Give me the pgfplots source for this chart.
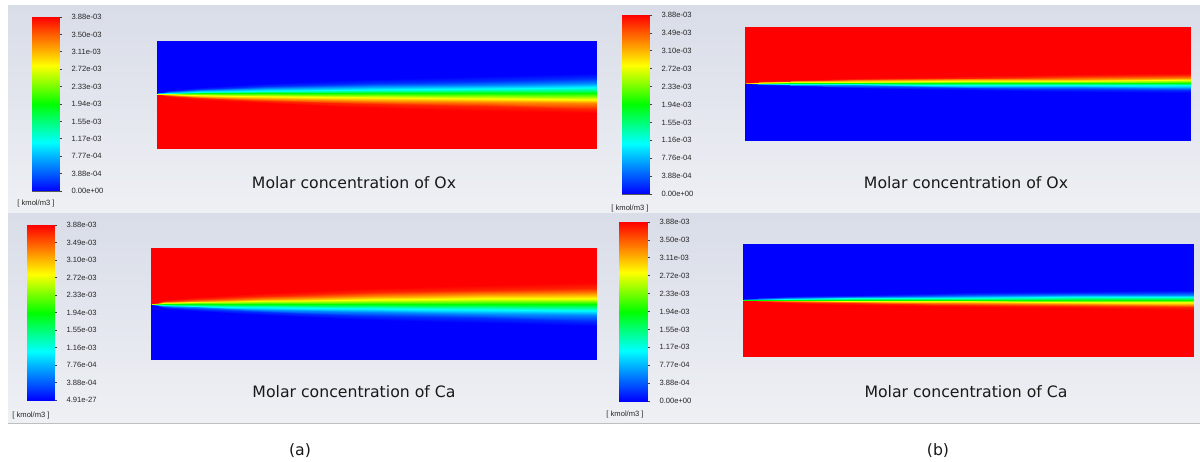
\documentclass[border=0pt]{standalone}
\usepackage{pgfplots}
\pgfplotsset{compat=1.18}
\usepackage{pgfplotstable}
\usepackage{fontspec}
\setmainfont{DejaVu Sans}
\newfontfamily\lib{Liberation Sans}

\definecolor{bgtop}{RGB}{217,221,232}
\definecolor{bgbot}{RGB}{238,240,244}

\pgfplotsset{
 colormap={fluent}{rgb255(0cm)=(0,0,255); rgb255(2.8cm)=(0,255,255); rgb255(5cm)=(0,255,0); rgb255(7.2cm)=(255,255,0); rgb255(10cm)=(255,0,0)},
 field/.style={scale only axis, hide axis, enlargelimits=false, xmin=0, xmax=1, ymin=0, anchor=south west, colormap name=fluent, point meta min=0, point meta max=1},
 cbar/.style={scale only axis, anchor=south west, width=27pt, enlargelimits=false, xmin=0, xmax=1, ymin=0, ymax=10,
   colormap name=fluent, point meta min=0, point meta max=1, xtick=\empty, ytick={0,...,10},
   ytick pos=right, yticklabel pos=right, tick align=outside, major tick length=3pt,
   tick style={black!75, line width=0.6pt}, axis line style={black!65, line width=0.8pt},
   yticklabel style={font=\lib\fontsize{7.6}{8}\selectfont, text=black!85, xshift=6pt}},
}

\pgfplotstableread{
x y v
0 0 0
1 0 0
0 1 0.1
1 1 0.1
0 2 0.2
1 2 0.2
0 3 0.3
1 3 0.3
0 4 0.4
1 4 0.4
0 5 0.5
1 5 0.5
0 6 0.6
1 6 0.6
0 7 0.7
1 7 0.7
0 8 0.8
1 8 0.8
0 9 0.9
1 9 0.9
0 10 1
1 10 1
}\cbdata

\pgfplotstableread{
x y v
0 0 1
0.03 0 1
0.1 0 1
0.25 0 1
0.5 0 1
0.75 0 1
1 0 1
0 55.1 1
0.03 52.04 1
0.1 49.18 1
0.25 45.5 1
0.5 41.36 1
0.75 38.18 1
1 35.5 1
0 55.2 0.96
0.03 52.9 0.96
0.1 50.76 0.96
0.25 48 0.96
0.5 44.89 0.96
0.75 42.51 0.96
1 40.5 0.96
0 55.3 0.85
0.03 53.77 0.85
0.1 52.34 0.85
0.25 50.5 0.85
0.5 48.43 0.85
0.75 46.84 0.85
1 45.5 0.85
0 55.4 0.7
0.03 54.63 0.7
0.1 53.92 0.7
0.25 53 0.7
0.5 51.96 0.7
0.75 51.17 0.7
1 50.5 0.7
0 55.5 0.5
0.03 55.5 0.5
0.1 55.5 0.5
0.25 55.5 0.5
0.5 55.5 0.5
0.75 55.5 0.5
1 55.5 0.5
0 55.6 0.3
0.03 56.37 0.3
0.1 57.08 0.3
0.25 58 0.3
0.5 59.04 0.3
0.75 59.83 0.3
1 60.5 0.3
0 55.7 0.15
0.03 57.23 0.15
0.1 58.66 0.15
0.25 60.5 0.15
0.5 62.57 0.15
0.75 64.16 0.15
1 65.5 0.15
0 55.8 0.05
0.03 58.1 0.05
0.1 60.24 0.05
0.25 63 0.05
0.5 66.11 0.05
0.75 68.49 0.05
1 70.5 0.05
0 55.9 0
0.03 58.96 0
0.1 61.82 0
0.25 65.5 0
0.5 69.64 0
0.75 72.82 0
1 75.5 0
0 108 0
0.03 108 0
0.1 108 0
0.25 108 0
0.5 108 0
0.75 108 0
1 108 0
}\tldata

\pgfplotstableread{
x y v
0 0 0
0.03 0 0
0.1 0 0
0.25 0 0
0.5 0 0
0.75 0 0
1 0 0
0 54.56 0
0.03 51.19 0
0.1 48.05 0
0.25 44 0
0.5 39.45 0
0.75 35.95 0
1 33 0
0 54.67 0.05
0.03 52.15 0.05
0.1 49.79 0.05
0.25 46.75 0.05
0.5 43.33 0.05
0.75 40.71 0.05
1 38.5 0.05
0 54.78 0.15
0.03 53.1 0.15
0.1 51.52 0.15
0.25 49.5 0.15
0.5 47.22 0.15
0.75 45.47 0.15
1 44 0.15
0 54.89 0.3
0.03 54.05 0.3
0.1 53.26 0.3
0.25 52.25 0.3
0.5 51.11 0.3
0.75 50.24 0.3
1 49.5 0.3
0 55 0.5
0.03 55 0.5
0.1 55 0.5
0.25 55 0.5
0.5 55 0.5
0.75 55 0.5
1 55 0.5
0 55.11 0.7
0.03 55.95 0.7
0.1 56.74 0.7
0.25 57.75 0.7
0.5 58.89 0.7
0.75 59.76 0.7
1 60.5 0.7
0 55.22 0.85
0.03 56.9 0.85
0.1 58.48 0.85
0.25 60.5 0.85
0.5 62.78 0.85
0.75 64.53 0.85
1 66 0.85
0 55.33 0.96
0.03 57.85 0.96
0.1 60.21 0.96
0.25 63.25 0.96
0.5 66.67 0.96
0.75 69.29 0.96
1 71.5 0.96
0 55.44 1
0.03 58.81 1
0.1 61.95 1
0.25 66 1
0.5 70.55 1
0.75 74.05 1
1 77 1
0 111 1
0.03 111 1
0.1 111 1
0.25 111 1
0.5 111 1
0.75 111 1
1 111 1
}\bldata

\pgfplotstableread{
x y v
0 0 0
0.03 0 0
0.1 0 0
0.25 0 0
0.5 0 0
0.75 0 0
1 0 0
0 57.8 0
0.03 56.27 0
0.1 54.84 0
0.25 53 0
0.5 50.93 0
0.75 49.34 0
1 48 0
0 57.85 0.05
0.03 56.7 0.05
0.1 55.63 0.05
0.25 54.25 0.05
0.5 52.7 0.05
0.75 51.5 0.05
1 50.5 0.05
0 57.9 0.15
0.03 57.13 0.15
0.1 56.42 0.15
0.25 55.5 0.15
0.5 54.46 0.15
0.75 53.67 0.15
1 53 0.15
0 57.95 0.3
0.03 57.57 0.3
0.1 57.21 0.3
0.25 56.75 0.3
0.5 56.23 0.3
0.75 55.83 0.3
1 55.5 0.3
0 58 0.5
0.03 58 0.5
0.1 58 0.5
0.25 58 0.5
0.5 58 0.5
0.75 58 0.5
1 58 0.5
0 58.05 0.7
0.03 58.43 0.7
0.1 58.79 0.7
0.25 59.25 0.7
0.5 59.77 0.7
0.75 60.17 0.7
1 60.5 0.7
0 58.1 0.85
0.03 58.87 0.85
0.1 59.58 0.85
0.25 60.5 0.85
0.5 61.54 0.85
0.75 62.33 0.85
1 63 0.85
0 58.15 0.96
0.03 59.3 0.96
0.1 60.37 0.96
0.25 61.75 0.96
0.5 63.3 0.96
0.75 64.5 0.96
1 65.5 0.96
0 58.2 1
0.03 59.73 1
0.1 61.16 1
0.25 63 1
0.5 65.07 1
0.75 66.66 1
1 68 1
0 114 1
0.03 114 1
0.1 114 1
0.25 114 1
0.5 114 1
0.75 114 1
1 114 1
}\trdata

\pgfplotstableread{
x y v
0 0 1
0.03 0 1
0.1 0 1
0.25 0 1
0.5 0 1
0.75 0 1
1 0 1
0 57.3 1
0.03 55.77 1
0.1 54.34 1
0.25 52.5 1
0.5 50.43 1
0.75 48.84 1
1 47.5 1
0 57.35 0.96
0.03 56.2 0.96
0.1 55.13 0.96
0.25 53.75 0.96
0.5 52.2 0.96
0.75 51 0.96
1 50 0.96
0 57.4 0.85
0.03 56.63 0.85
0.1 55.92 0.85
0.25 55 0.85
0.5 53.96 0.85
0.75 53.17 0.85
1 52.5 0.85
0 57.45 0.7
0.03 57.07 0.7
0.1 56.71 0.7
0.25 56.25 0.7
0.5 55.73 0.7
0.75 55.33 0.7
1 55 0.7
0 57.5 0.5
0.03 57.5 0.5
0.1 57.5 0.5
0.25 57.5 0.5
0.5 57.5 0.5
0.75 57.5 0.5
1 57.5 0.5
0 57.55 0.3
0.03 57.93 0.3
0.1 58.29 0.3
0.25 58.75 0.3
0.5 59.27 0.3
0.75 59.67 0.3
1 60 0.3
0 57.6 0.15
0.03 58.37 0.15
0.1 59.08 0.15
0.25 60 0.15
0.5 61.04 0.15
0.75 61.83 0.15
1 62.5 0.15
0 57.65 0.05
0.03 58.8 0.05
0.1 59.87 0.05
0.25 61.25 0.05
0.5 62.8 0.05
0.75 64 0.05
1 65 0.05
0 57.7 0
0.03 59.23 0
0.1 60.66 0
0.25 62.5 0
0.5 64.57 0
0.75 66.16 0
1 67.5 0
0 113 0
0.03 113 0
0.1 113 0
0.25 113 0
0.5 113 0
0.75 113 0
1 113 0
}\brdata

\begin{document}
\begin{tikzpicture}[x=1pt,y=1pt]
\path[use as bounding box] (0,0) rectangle (1200,461);
\fill[white] (0,0) rectangle (1200,461);
\shade[top color=bgtop, bottom color=bgbot] (8,247) rectangle (1200,455);
\shade[top color=bgtop, bottom color=bgbot] (8,38) rectangle (1200,247);
\draw[black!25, line width=1.2pt] (8,37.6) -- (1200,37.6);

% ---- colour bars ----
\begin{axis}[cbar, at={(32pt,270pt)}, height=174pt,
  yticklabels={0.00e+00,3.88e-04,7.77e-04,1.17e-03,1.55e-03,1.94e-03,2.33e-03,2.72e-03,3.11e-03,3.50e-03,3.88e-03}]
\addplot[surf, shader=interp, mesh/cols=2, point meta=\thisrow{v}] table {\cbdata};
\end{axis}
\begin{axis}[cbar, at={(622pt,267pt)}, height=179pt,
  yticklabels={0.00e+00,3.88e-04,7.76e-04,1.16e-03,1.55e-03,1.94e-03,2.33e-03,2.72e-03,3.10e-03,3.49e-03,3.88e-03}]
\addplot[surf, shader=interp, mesh/cols=2, point meta=\thisrow{v}] table {\cbdata};
\end{axis}
\begin{axis}[cbar, at={(27pt,61pt)}, height=175pt,
  yticklabels={4.91e-27,3.88e-04,7.76e-04,1.16e-03,1.55e-03,1.94e-03,2.33e-03,2.72e-03,3.10e-03,3.49e-03,3.88e-03}]
\addplot[surf, shader=interp, mesh/cols=2, point meta=\thisrow{v}] table {\cbdata};
\end{axis}
\begin{axis}[cbar, at={(619pt,60pt)}, height=179pt, width=28pt,
  yticklabels={0.00e+00,3.88e-04,7.77e-04,1.17e-03,1.55e-03,1.94e-03,2.33e-03,2.72e-03,3.11e-03,3.50e-03,3.88e-03}]
\addplot[surf, shader=interp, mesh/cols=2, point meta=\thisrow{v}] table {\cbdata};
\end{axis}

% ---- concentration fields ----
\begin{axis}[field, at={(157pt,312pt)}, width=439pt, height=108pt, ymax=108]
\addplot[surf, shader=interp, mesh/cols=7, point meta=\thisrow{v}] table {\tldata};
\end{axis}
\begin{axis}[field, at={(745pt,320pt)}, width=445pt, height=114pt, ymax=114]
\addplot[surf, shader=interp, mesh/cols=7, point meta=\thisrow{v}] table {\trdata};
\end{axis}
\begin{axis}[field, at={(151pt,102pt)}, width=445pt, height=111pt, ymax=111]
\addplot[surf, shader=interp, mesh/cols=7, point meta=\thisrow{v}] table {\bldata};
\end{axis}
\begin{axis}[field, at={(743pt,104pt)}, width=450pt, height=113pt, ymax=113]
\addplot[surf, shader=interp, mesh/cols=7, point meta=\thisrow{v}] table {\brdata};
\end{axis}

% ---- texts ----
\begin{scope}[every node/.style={font=\lib\fontsize{7.6}{9}\selectfont, text=black!85}]
\node at (36,257) {[ kmol/m3 ]};
\node at (630,252) {[ kmol/m3 ]};
\node at (31,45) {[ kmol/m3 ]};
\node at (625,46) {[ kmol/m3 ]};
\end{scope}
\begin{scope}[every node/.style={font=\fontsize{15.7}{18}\selectfont, text=black!90}]
\node at (354,278) {Molar concentration of Ox};
\node at (966,278) {Molar concentration of Ox};
\node at (354,69) {Molar concentration of Ca};
\node at (966,69) {Molar concentration of Ca};
\node at (300,10) {(a)};
\node at (938,10) {(b)};
\end{scope}
\end{tikzpicture}
\end{document}
